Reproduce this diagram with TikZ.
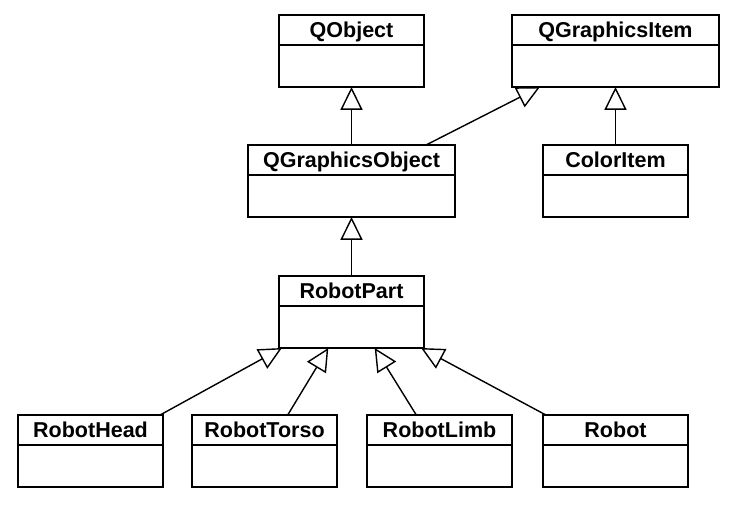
\documentclass[tikz,border=0pt]{standalone}
\usepackage{fontspec}
\setmainfont{Liberation Sans}
\usetikzlibrary{arrows.meta, positioning, calc}

\def\narrowW{3.625cm}
\def\wideW{5.175cm}
\tikzset{
  classname/.style={draw, line width=1pt, minimum height=0.75cm, inner sep=0pt, outer sep=0pt,
    text height=11pt, text depth=0.5pt, font=\fontsize{15.3}{18}\selectfont\bfseries},
  classbody/.style={draw, line width=1pt, minimum height=1.05cm, inner sep=0pt, outer sep=0pt},
  inherit/.style={line width=1pt, -{Triangle[open, length=0.57cm, width=0.55cm]}}
}

\begin{document}
\begin{tikzpicture}[x=0.025cm, y=-0.025cm]
% page in pixel units, y going down
\useasboundingbox (0,0) rectangle (732,507);

% top row
\node[classname, minimum width=\narrowW, anchor=north] (qobject) at (351.5,15) {QObject};
\node[classbody, minimum width=\narrowW, below=0pt of qobject] (qobject-body) {};
\node[classname, minimum width=\wideW, anchor=north] (qgitem) at (615.5,15) {QGraphicsItem};
\node[classbody, minimum width=\wideW, below=0pt of qgitem] (qgitem-body) {};

% second row
\node[classname, minimum width=\wideW, anchor=north] (qgobject) at (351.5,145) {QGraphicsObject};
\node[classbody, minimum width=\wideW, below=0pt of qgobject] (qgobject-body) {};
\node[classname, minimum width=\narrowW, anchor=north] (coloritem) at (615.5,145) {ColorItem};
\node[classbody, minimum width=\narrowW, below=0pt of coloritem] (coloritem-body) {};

% third row
\node[classname, minimum width=\narrowW, anchor=north] (robotpart) at (351.5,276) {RobotPart};
\node[classbody, minimum width=\narrowW, below=0pt of robotpart] (robotpart-body) {};

% bottom row
\foreach \cls/\x/\nm in {RobotHead/90.5/head, RobotTorso/264.5/torso, RobotLimb/439.5/limb, Robot/615.5/robot}{
  \node[classname, minimum width=\narrowW, anchor=north] (\nm) at (\x,415) {\cls};
  \node[classbody, minimum width=\narrowW, below=0pt of \nm] (\nm-body) {};
}

% inheritance
\draw[inherit] (qgobject.north) -- (qobject-body.south);
\draw[inherit] ($(qgobject.north west)!0.86!(qgobject.north east)$) -- ($(qgitem-body.south west)!0.135!(qgitem-body.south east)$);
\draw[inherit] (coloritem.north) -- (qgitem-body.south);
\draw[inherit] (robotpart.north) -- (qgobject-body.south);
\foreach \nm/\from/\to in {head/0.98/0.02, torso/0.66/0.34, limb/0.34/0.66, robot/0.02/0.98}{
  \draw[inherit] ($(\nm.north west)!\from!(\nm.north east)$) -- ($(robotpart-body.south west)!\to!(robotpart-body.south east)$);
}
\end{tikzpicture}
\end{document}
